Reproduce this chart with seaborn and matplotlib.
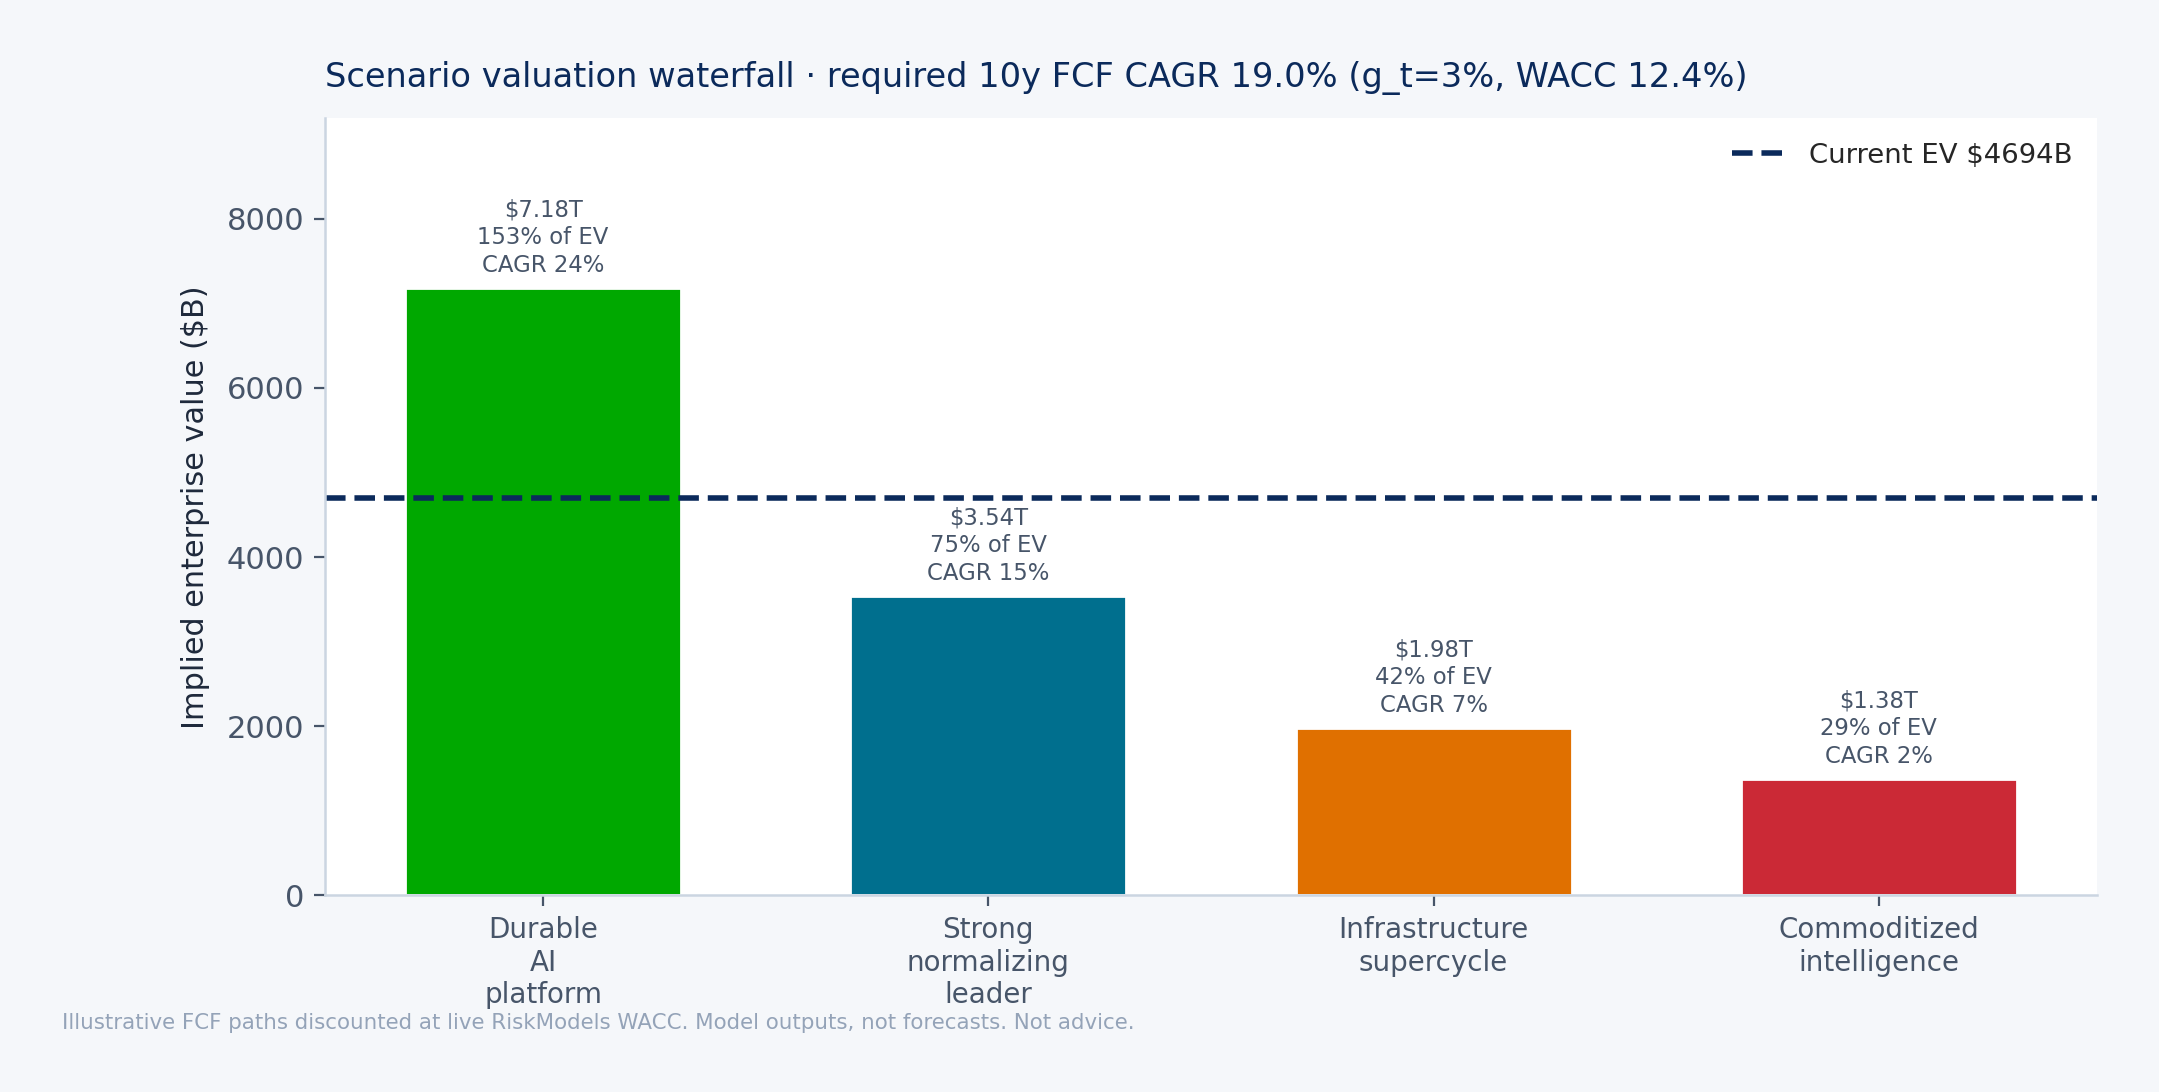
import pandas as pd
import matplotlib.pyplot as plt
import seaborn as sns

scenarios = ["Durable\nAI\nplatform", "Strong\nnormalizing\nleader", "Infrastructure\nsupercycle", "Commoditized\nintelligence"]
ev_values = [7180, 3540, 1980, 1380]
pct_of_ev = [153, 75, 42, 29]
cagr = [24, 15, 7, 2]
bar_colors = ["#00a800", "#006f8e", "#e07000", "#cb2936"]
current_ev = 4694

navy = "#0b2a5b"
slate = "#475569"
bg = "#f5f7fa"

sns.set_style("white")
plt.rcParams["font.family"] = ["DejaVu Sans"]

df = pd.DataFrame({"scenario": scenarios, "ev": ev_values})

fig, ax = plt.subplots(figsize=(10.795, 5.46), dpi=200)
fig.patch.set_facecolor(bg)
ax.set_facecolor("white")

sns.barplot(data=df, x="scenario", y="ev", hue="scenario", palette=bar_colors,
            width=0.62, saturation=1, legend=False, ax=ax)

ev_line = ax.axhline(current_ev, color=navy, linestyle="--", linewidth=2, label=f"Current EV ${current_ev}B")
ev_line.set_clip_on(True)
ev_line.set_clip_path(ax.patch)

for i, v in enumerate(ev_values):
    ax.annotate(f"${v/1000:.2f}T\n{pct_of_ev[i]}% of EV\nCAGR {cagr[i]}%", (i, v),
                xytext=(0, 4), textcoords="offset points", ha="center", va="bottom",
                fontsize=8.2, color=slate, linespacing=1.25)

ax.set_ylim(0, max(ev_values) * 1.28)
ax.set_xlim(-0.49, 3.49)
ax.set_title("Scenario valuation waterfall · required 10y FCF CAGR 19.0% (g_t=3%, WACC 12.4%)",
             loc="left", fontsize=12.1, color=navy, pad=11)
ax.set_xlabel("")
ax.set_ylabel("Implied enterprise value ($B)", fontsize=10.9, color="#1e293b", labelpad=6)
ax.tick_params(axis="both", colors=slate, labelsize=11, length=4, width=0.8, left=True, bottom=True)
ax.tick_params(axis="x", labelsize=10)
for s in ["top", "right"]:
    ax.spines[s].set_visible(False)
for s in ["left", "bottom"]:
    ax.spines[s].set_color("#cbd5e1")
    ax.spines[s].set_linewidth(0.9)

leg = ax.legend(loc="upper right", frameon=False, fontsize=9.9, handlelength=2.0)

fig.text(0.0287, 0.058, "Illustrative FCF paths discounted at live RiskModels WACC. Model outputs, not forecasts. Not advice.",
         fontsize=7.7, color="#94a3b8")

fig.subplots_adjust(left=0.1505, right=0.9713, top=0.892, bottom=0.18)
fig.savefig("out.png", dpi=200, facecolor=bg)
